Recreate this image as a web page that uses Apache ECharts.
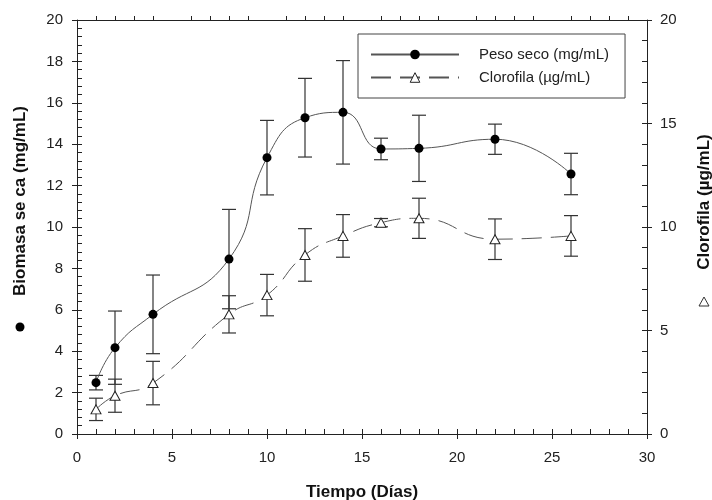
<!DOCTYPE html>
<html>
<head>
<meta charset="utf-8">
<script src="https://cdn.jsdelivr.net/npm/echarts@6/dist/echarts.min.js"></script>
<style>
  html, body { margin: 0; padding: 0; background: #fff; }
  #main { width: 712px; height: 500px; }
</style>
</head>
<body>
<div id="main"></div>
<script>
// dias de muestreo
var dias = [1, 2, 4, 8, 10, 12, 14, 16, 18, 22, 26];
// peso seco (mg/mL) y su desviacion
var pesoSeco = [2.48, 4.17, 5.78, 8.45, 13.35, 15.28, 15.54, 13.77, 13.8, 14.24, 12.56];
var pesoErr = [0.35, 1.77, 1.9, 2.4, 1.8, 1.9, 2.5, 0.52, 1.6, 0.73, 1.0];
// clorofila (ug/mL) y su desviacion
var clorofila = [1.19, 1.85, 2.46, 5.78, 6.71, 8.65, 9.57, 10.21, 10.42, 9.41, 9.57];
var cloroErr = [0.54, 0.8, 1.05, 0.9, 1.0, 1.27, 1.03, 0.2, 0.97, 0.98, 0.98];

var fuente = 'Liberation Sans, Arial, sans-serif';
var myChart = echarts.init(document.getElementById('main'));

function pares(xs, ys) {
    return xs.map(function (x, i) { return [x, ys[i]]; });
}
function barras(xs, ys, es) {
    return xs.map(function (x, i) { return [x, ys[i] - es[i], ys[i] + es[i]]; });
}
// barra de error con sus topes
function dibujaError(params, api) {
    var x = api.value(0);
    var lo = api.coord([x, api.value(1)]);
    var hi = api.coord([x, api.value(2)]);
    var w = 7;
    var estilo = { stroke: '#333', lineWidth: 1.2 };
    return {
        type: 'group',
        children: [
            { type: 'line', shape: { x1: lo[0], y1: lo[1], x2: hi[0], y2: hi[1] }, style: estilo },
            { type: 'line', shape: { x1: lo[0] - w, y1: lo[1], x2: lo[0] + w, y2: lo[1] }, style: estilo },
            { type: 'line', shape: { x1: hi[0] - w, y1: hi[1], x2: hi[0] + w, y2: hi[1] }, style: estilo }
        ]
    };
}

// marcas menores del eje superior (cada dia, sin las de 5 en 5)
var marcasArriba = [];
for (var d = 1; d < 30; d++) {
    if (d % 5 !== 0) marcasArriba.push(d);
}

var ejeLinea = { show: true, onZero: false, lineStyle: { color: '#222', width: 1 } };
var sinLinea = { show: false, onZero: false };
var etiqueta = { color: '#222', fontSize: 15, fontFamily: fuente };
var tickFuera = { show: true, inside: false, length: 5, lineStyle: { color: '#222' } };
var tickDentro = { show: true, inside: true, length: 5, lineStyle: { color: '#222' } };

// eje solo para las marcas menores hacia dentro
function ejeMenor(pos, max, paso) {
    return {
        type: 'value', position: pos, min: 0, max: max, interval: paso,
        axisLine: sinLinea, axisTick: tickDentro,
        splitLine: { show: false }, axisLabel: { show: false }
    };
}

var option = {
    animation: false,
    grid: { left: 77, right: 65, top: 20, bottom: 66 },
    legend: {
        orient: 'vertical',
        left: 358,
        top: 34,
        padding: [13, 16, 13, 12],
        itemWidth: 88,
        itemHeight: 12,
        itemGap: 8,
        borderColor: '#444',
        borderWidth: 1,
        itemStyle: { borderWidth: 1 },
        data: ['Peso seco (mg/mL)', 'Clorofila (µg/mL)'],
        textStyle: { color: '#222', fontSize: 15, fontFamily: fuente, padding: [0, 0, 0, 15] }
    },
    xAxis: [{
        type: 'value',
        position: 'bottom',
        min: 0, max: 30, interval: 5,
        axisLine: ejeLinea,
        axisTick: tickFuera,
        splitLine: { show: false },
        axisLabel: Object.assign({ margin: 16 }, etiqueta)
    }, {
        type: 'value',
        position: 'top',
        min: 0, max: 30, interval: 1,
        axisLine: ejeLinea,
        axisTick: { show: true, inside: false, length: 4, customValues: marcasArriba, lineStyle: { color: '#222' } },
        splitLine: { show: false },
        axisLabel: { show: false }
    }, ejeMenor('bottom', 30, 1)],
    yAxis: [{
        type: 'value',
        position: 'left',
        min: 0, max: 20, interval: 2,
        axisLine: ejeLinea,
        axisTick: tickFuera,
        splitLine: { show: false },
        axisLabel: Object.assign({ margin: 14 }, etiqueta)
    }, {
        type: 'value',
        position: 'right',
        min: 0, max: 20, interval: 5,
        axisLine: ejeLinea,
        axisTick: tickFuera,
        splitLine: { show: false },
        axisLabel: Object.assign({ margin: 13 }, etiqueta)
    }, ejeMenor('left', 20, 0.4), ejeMenor('right', 20, 1)],
    graphic: [
        { type: 'text', x: 20, y: 201, rotation: Math.PI / 2,
          style: { text: 'Biomasa se ca (mg/mL)', fill: '#111', font: 'bold 17px ' + fuente, align: 'center', verticalAlign: 'middle' } },
        { type: 'circle', shape: { cx: 20, cy: 327, r: 4.5 }, style: { fill: '#000' } },
        { type: 'text', x: 704, y: 202, rotation: Math.PI / 2,
          style: { text: 'Clorofila (µg/mL)', fill: '#111', font: 'bold 17px ' + fuente, align: 'center', verticalAlign: 'middle' } },
        { type: 'polygon', shape: { points: [[704, 297], [709, 306], [699, 306]] },
          style: { fill: '#fff', stroke: '#333', lineWidth: 1 } },
        { type: 'text', x: 362, y: 492,
          style: { text: 'Tiempo (Días)', fill: '#111', font: 'bold 17px ' + fuente, align: 'center', verticalAlign: 'middle' } }
    ],
    series: [{
        type: 'custom',
        name: 'errPeso',
        xAxisIndex: 0, yAxisIndex: 0,
        renderItem: dibujaError,
        data: barras(dias, pesoSeco, pesoErr),
        z: 1
    }, {
        type: 'custom',
        name: 'errCloro',
        xAxisIndex: 0, yAxisIndex: 1,
        renderItem: dibujaError,
        data: barras(dias, clorofila, cloroErr),
        z: 1
    }, {
        name: 'Peso seco (mg/mL)',
        type: 'line',
        xAxisIndex: 0, yAxisIndex: 0,
        smooth: 0.5,
        data: pares(dias, pesoSeco),
        symbol: 'circle',
        symbolSize: 9,
        itemStyle: { color: '#000' },
        lineStyle: { color: '#555', width: 1 },
        z: 3
    }, {
        name: 'Clorofila (µg/mL)',
        type: 'line',
        xAxisIndex: 0, yAxisIndex: 1,
        smooth: 0.5,
        data: pares(dias, clorofila),
        symbol: 'triangle',
        symbolSize: [10, 9],
        itemStyle: { color: '#fff', borderColor: '#222', borderWidth: 1 },
        lineStyle: { color: '#555', width: 1, type: [20, 9] },
        z: 3
    }]
};
myChart.setOption(option);
</script>
</body>
</html>
